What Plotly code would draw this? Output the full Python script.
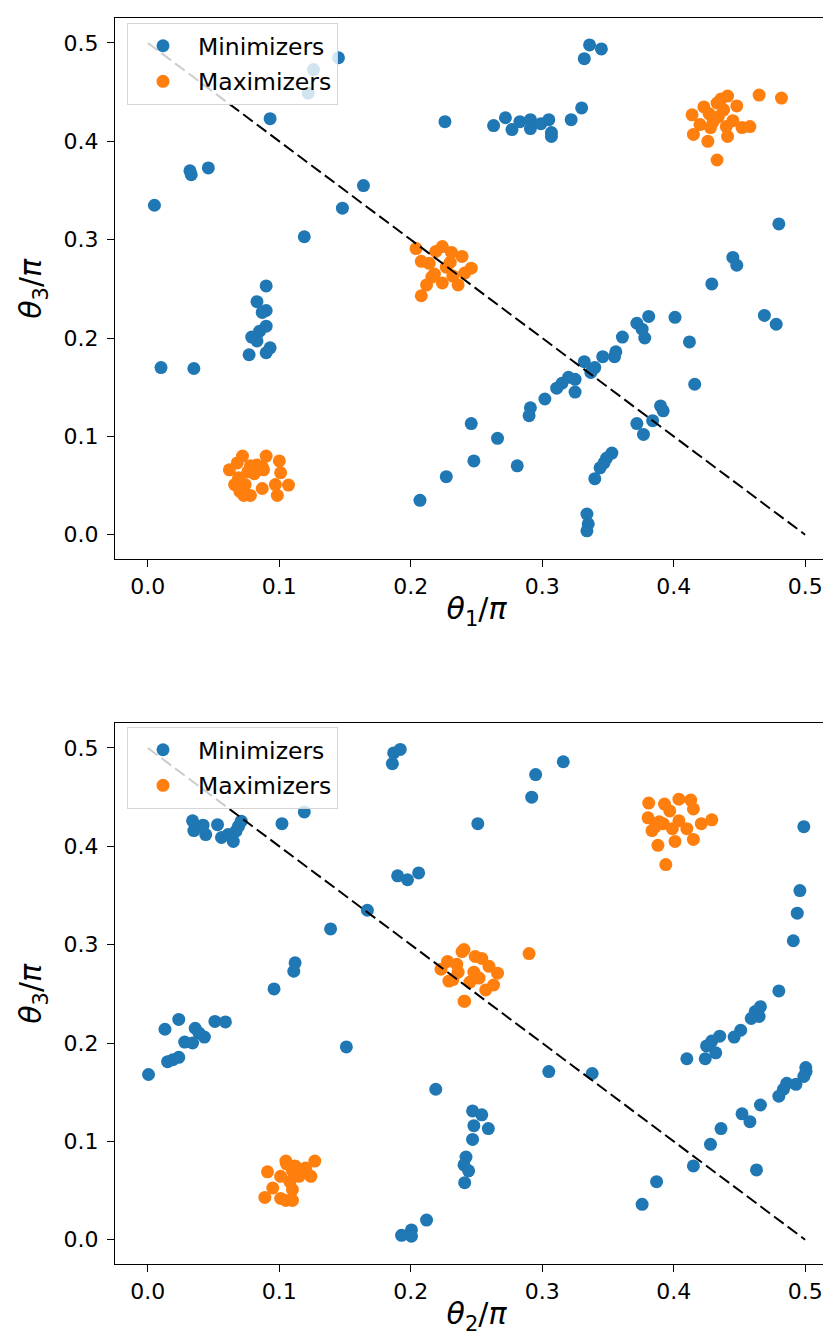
import plotly.graph_objects as go

# ---------------- data: top panel (theta1/pi, theta3/pi) ----------------
top_min_x = [0.145, 0.126, 0.122, 0.093, 0.226, 0.032, 0.033, 0.046, 0.005, 0.164,
             0.148, 0.119, 0.090, 0.083, 0.090, 0.087, 0.090, 0.085, 0.079, 0.083,
             0.093, 0.090, 0.077, 0.010, 0.035, 0.246, 0.248, 0.227, 0.207, 0.336,
             0.345, 0.332, 0.330, 0.322, 0.263, 0.272, 0.277, 0.283, 0.291, 0.291,
             0.299, 0.305, 0.307, 0.307, 0.480, 0.445, 0.448, 0.429, 0.469, 0.478,
             0.401, 0.381, 0.372, 0.376, 0.378, 0.412, 0.361, 0.356, 0.355, 0.346,
             0.332, 0.340, 0.337, 0.320, 0.325, 0.315, 0.311, 0.325, 0.416, 0.302,
             0.291, 0.290, 0.390, 0.392, 0.372, 0.384, 0.377, 0.266, 0.281, 0.353,
             0.349, 0.347, 0.344, 0.340, 0.334, 0.335, 0.334]
top_min_y = [0.485, 0.473, 0.449, 0.423, 0.420, 0.370, 0.366, 0.373, 0.335, 0.355,
             0.332, 0.303, 0.253, 0.237, 0.228, 0.226, 0.212, 0.207, 0.201, 0.197,
             0.190, 0.185, 0.183, 0.170, 0.169, 0.113, 0.075, 0.059, 0.035, 0.498,
             0.494, 0.484, 0.434, 0.422, 0.416, 0.424, 0.412, 0.420, 0.422, 0.413,
             0.418, 0.422, 0.409, 0.405, 0.316, 0.282, 0.274, 0.255, 0.223, 0.214,
             0.221, 0.222, 0.215, 0.209, 0.200, 0.196, 0.201, 0.186, 0.181, 0.181,
             0.176, 0.170, 0.165, 0.160, 0.158, 0.154, 0.149, 0.145, 0.153, 0.138,
             0.129, 0.121, 0.131, 0.126, 0.113, 0.116, 0.102, 0.098, 0.070, 0.083,
             0.078, 0.073, 0.068, 0.057, 0.021, 0.011, 0.004]

top_max_x = [0.072, 0.068, 0.062, 0.090, 0.100, 0.101, 0.078, 0.083, 0.087, 0.076,
             0.081, 0.088, 0.066, 0.070, 0.073, 0.078, 0.074, 0.087, 0.097, 0.107,
             0.0985, 0.069,
             0.204, 0.208, 0.214, 0.224, 0.219, 0.231, 0.239, 0.246, 0.218, 0.224,
             0.212, 0.236, 0.208, 0.227, 0.232, 0.216, 0.230, 0.241,
             0.465, 0.482, 0.414, 0.423, 0.433, 0.441, 0.448, 0.436, 0.415, 0.426,
             0.433, 0.441, 0.458, 0.452, 0.420, 0.434, 0.445, 0.430, 0.427, 0.438,
             0.428, 0.440]
top_max_y = [0.080, 0.073, 0.066, 0.080, 0.075, 0.063, 0.070, 0.071, 0.069, 0.064,
             0.062, 0.066, 0.051, 0.044, 0.040, 0.040, 0.051, 0.047, 0.051, 0.0505,
             0.040, 0.058,
             0.291, 0.278, 0.276, 0.293, 0.288, 0.287, 0.283, 0.271, 0.265, 0.256,
             0.254, 0.254, 0.243, 0.272, 0.263, 0.262, 0.277, 0.266,
             0.447, 0.444, 0.427, 0.435, 0.439, 0.446, 0.436, 0.443, 0.407, 0.400,
             0.381, 0.405, 0.415, 0.414, 0.417, 0.425, 0.421, 0.420, 0.428, 0.432,
             0.414, 0.415]

# ---------------- data: bottom panel (theta2/pi, theta3/pi) ----------------
bot_min_x = [0.192, 0.187, 0.186, 0.119, 0.251, 0.102, 0.034, 0.035, 0.042, 0.044,
             0.053, 0.056, 0.061, 0.065, 0.069, 0.071, 0.067, 0.190, 0.1975, 0.206,
             0.167, 0.139, 0.112, 0.111, 0.096, 0.316, 0.295, 0.292, 0.499, 0.496,
             0.494, 0.491, 0.480, 0.0235, 0.013, 0.036, 0.051, 0.059, 0.043, 0.039,
             0.028, 0.034, 0.0235, 0.019, 0.015, 0.0005, 0.151, 0.219, 0.247, 0.248,
             0.247, 0.242, 0.2405, 0.244, 0.241, 0.212, 0.2005, 0.193, 0.2005, 0.466,
             0.462, 0.465, 0.459, 0.451, 0.446, 0.435, 0.429, 0.425, 0.432, 0.424,
             0.410, 0.5005, 0.5007, 0.499, 0.493, 0.486, 0.4835, 0.480, 0.466, 0.452,
             0.458, 0.436, 0.428, 0.415, 0.463, 0.387, 0.376, 0.305, 0.338, 0.254,
             0.259]
bot_min_y = [0.4985, 0.495, 0.484, 0.435, 0.423, 0.423, 0.426, 0.416, 0.4215, 0.412,
             0.422, 0.409, 0.412, 0.405, 0.4205, 0.4256, 0.4154, 0.370, 0.366, 0.373,
             0.335, 0.316, 0.2815, 0.273, 0.255, 0.486, 0.473, 0.450, 0.420, 0.355,
             0.332, 0.304, 0.253, 0.224, 0.214, 0.215, 0.222, 0.2215, 0.206, 0.210,
             0.201, 0.200, 0.1855, 0.183, 0.181, 0.168, 0.196, 0.153, 0.131, 0.116,
             0.102, 0.084, 0.076, 0.070, 0.058, 0.020, 0.010, 0.0045, 0.0035, 0.237,
             0.232, 0.227, 0.225, 0.213, 0.206, 0.207, 0.202, 0.197, 0.190, 0.184,
             0.184, 0.175, 0.171, 0.166, 0.158, 0.159, 0.153, 0.146, 0.137, 0.128,
             0.120, 0.113, 0.097, 0.075, 0.071, 0.059, 0.036, 0.171, 0.169, 0.127,
             0.113]

bot_max_x = [0.290,
             0.381, 0.393, 0.404, 0.413, 0.415, 0.429, 0.421, 0.3805, 0.397, 0.3835,
             0.388, 0.401, 0.415, 0.394, 0.410, 0.404, 0.392, 0.399, 0.389, 0.386,
             0.2405, 0.228, 0.223, 0.229, 0.241, 0.239, 0.249, 0.254, 0.2595, 0.266,
             0.263, 0.257, 0.2405, 0.232, 0.235, 0.248, 0.245, 0.252, 0.236,
             0.127, 0.105, 0.091, 0.120, 0.124, 0.110, 0.101, 0.108, 0.115, 0.110,
             0.095, 0.089, 0.101, 0.105, 0.110, 0.1055, 0.112]
bot_max_y = [0.291,
             0.444, 0.443, 0.448, 0.447, 0.438, 0.427, 0.423, 0.429, 0.436, 0.416,
             0.401, 0.405, 0.407, 0.3815, 0.418, 0.426, 0.423, 0.418, 0.425, 0.420,
             0.295, 0.283, 0.275, 0.263, 0.2425, 0.293, 0.288, 0.286, 0.278, 0.271,
             0.259, 0.254, 0.2425, 0.2645, 0.280, 0.272, 0.262, 0.266, 0.272,
             0.080, 0.080, 0.069, 0.073, 0.0645, 0.070, 0.0645, 0.059, 0.0645, 0.051,
             0.0526, 0.043, 0.042, 0.040, 0.040, 0.077, 0.075]

line_x = [0.0, 0.5]
line_y = [0.5, 0.0]

tick_vals = [0.0, 0.1, 0.2, 0.3, 0.4, 0.5]
tick_text = ["0.0", "0.1", "0.2", "0.3", "0.4", "0.5"]

BLUE = "#1f77b4"
ORANGE = "#ff7f0e"
MSIZE = 13
FONT = "DejaVu Sans"

fig = go.Figure()

# top panel
fig.add_trace(go.Scatter(x=top_min_x, y=top_min_y, mode="markers", name="Minimizers",
                         marker=dict(color=BLUE, size=MSIZE), xaxis="x", yaxis="y",
                         legend="legend", legendgroup="a"))
fig.add_trace(go.Scatter(x=top_max_x, y=top_max_y, mode="markers", name="Maximizers",
                         marker=dict(color=ORANGE, size=MSIZE), xaxis="x", yaxis="y",
                         legend="legend", legendgroup="b"))
fig.add_trace(go.Scatter(x=line_x, y=line_y, mode="lines", showlegend=False,
                         line=dict(color="black", width=2, dash="12px,5px"),
                         xaxis="x", yaxis="y"))
# bottom panel
fig.add_trace(go.Scatter(x=bot_min_x, y=bot_min_y, mode="markers", name="Minimizers",
                         marker=dict(color=BLUE, size=MSIZE), xaxis="x2", yaxis="y2",
                         legend="legend2", legendgroup="c"))
fig.add_trace(go.Scatter(x=bot_max_x, y=bot_max_y, mode="markers", name="Maximizers",
                         marker=dict(color=ORANGE, size=MSIZE), xaxis="x2", yaxis="y2",
                         legend="legend2", legendgroup="d"))
fig.add_trace(go.Scatter(x=line_x, y=line_y, mode="lines", showlegend=False,
                         line=dict(color="black", width=2, dash="12px,5px"),
                         xaxis="x2", yaxis="y2"))

W, H = 831, 1336
xdom = [107 / W, 830 / W]
top_dom = [1 - 551.3 / H, 1 - 10.4 / H]
bot_dom = [1 - 1256.3 / H, 1 - 715.4 / H]

axis_common = dict(range=[-0.025, 0.525], showgrid=False, zeroline=False,
                   showline=True, linecolor="black", linewidth=1.2, mirror=True,
                   ticks="outside", ticklen=7, tickwidth=1.2, tickcolor="black",
                   tickvals=tick_vals, ticktext=tick_text, automargin=False,
                   tickfont=dict(family=FONT, size=22, color="black"))

legend_common = dict(bgcolor="rgba(255,255,255,0.8)", bordercolor="rgba(204,204,204,0.8)",
                     borderwidth=1, font=dict(family=FONT, size=23.5, color="black"),
                     xanchor="left", yanchor="top", itemsizing="trace",
                     itemwidth=60, traceorder="grouped", tracegroupgap=2)

TITLE_FONT = dict(family=FONT, size=30, color="black")

fig.update_layout(
    width=W, height=H,
    margin=dict(l=0, r=0, t=0, b=0),
    paper_bgcolor="white", plot_bgcolor="white",
    font=dict(family=FONT, color="black"),
    xaxis=dict(domain=xdom, anchor="y", **axis_common, ticklabelstandoff=0,
               title=dict(text="<i>θ</i><sub>1</sub>/<i>π</i>", font=TITLE_FONT, standoff=0)),
    yaxis=dict(domain=top_dom, anchor="x", **axis_common, ticklabelstandoff=4,
               title=dict(text="<i>θ</i><sub>3</sub>/<i>π</i>", font=TITLE_FONT, standoff=12)),
    xaxis2=dict(domain=xdom, anchor="y2", **axis_common, ticklabelstandoff=0,
                title=dict(text="<i>θ</i><sub>2</sub>/<i>π</i>", font=TITLE_FONT, standoff=0)),
    yaxis2=dict(domain=bot_dom, anchor="x2", **axis_common, ticklabelstandoff=4,
                title=dict(text="<i>θ</i><sub>3</sub>/<i>π</i>", font=TITLE_FONT, standoff=12)),
    legend=dict(x=119 / W, y=1 - 15 / H, **legend_common),
    legend2=dict(x=119 / W, y=1 - 719 / H, **legend_common),
)

fig.write_html("out.html")
